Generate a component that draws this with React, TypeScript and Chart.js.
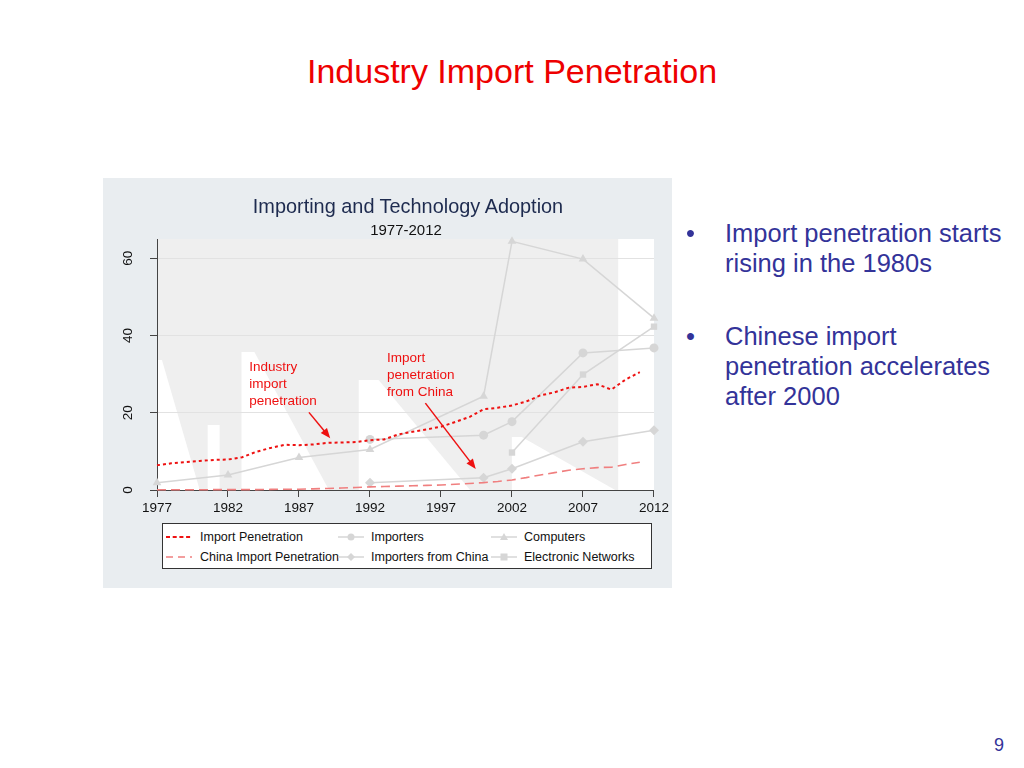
import React, { useEffect, useRef } from 'react';
import { Chart, registerables } from 'chart.js';

Chart.register(...registerables);

const FONT = '"Liberation Sans", Arial, Helvetica, sans-serif';

// ---- data ----
const annualYears = [
  1977, 1978, 1979, 1980, 1981, 1982, 1983, 1984, 1985, 1986, 1987, 1988,
  1989, 1990, 1991, 1992, 1993, 1994, 1995, 1996, 1997, 1998, 1999, 2000,
  2001, 2002, 2003, 2004, 2005, 2006, 2007, 2008, 2009, 2010, 2011,
];
const importPenetration = [
  6.4, 6.9, 7.2, 7.5, 7.8, 7.9, 8.5, 9.9, 10.9, 11.7, 11.6, 11.8,
  12.2, 12.3, 12.4, 12.9, 13.1, 14.4, 15.1, 15.7, 16.4, 17.6, 18.9, 20.9,
  21.3, 21.9, 22.9, 24.5, 25.3, 26.5, 26.7, 27.4, 26.0, 28.6, 30.5,
];
const chinaImportPenetration = [
  0.05, 0.05, 0.05, 0.05, 0.1, 0.1, 0.1, 0.1, 0.15, 0.2, 0.2, 0.3,
  0.4, 0.5, 0.65, 0.8, 0.9, 1.0, 1.1, 1.2, 1.3, 1.5, 1.7, 1.9,
  2.2, 2.6, 3.2, 3.9, 4.5, 5.1, 5.5, 5.8, 5.9, 6.6, 7.2,
];
const computerYears = [1977, 1982, 1987, 1992, 2000, 2002, 2007, 2012];
const computers = [1.9, 3.9, 8.4, 10.5, 24.3, 64.4, 59.8, 44.5];
const importerYears = [1992, 2000, 2002, 2007, 2012];
const importers = [13.1, 14.2, 17.7, 35.5, 36.8];
const importersFromChina = [1.9, 3.2, 5.5, 12.5, 15.5];
const networkYears = [2002, 2007, 2012];
const electronicNetworks = [9.7, 29.9, 42.3];

const xTickYears = [1977, 1982, 1987, 1992, 1997, 2002, 2007, 2012];
const yTickValues = [0, 20, 40, 60];

const seriesLabels = [
  'Import Penetration',
  'China Import Penetration',
  'Importers',
  'Importers from China',
  'Computers',
  'Electronic Networks',
];
// legend grid, row-major (3 columns x 2 rows), indices into seriesLabels
const legendOrder = [0, 2, 4, 1, 3, 5];

const annotationTexts = [
  ['Industry', 'import', 'penetration'],
  ['Import', 'penetration', 'from China'],
];
// [textYear, textValue, arrowFromYear, arrowFromValue, arrowToYear, arrowToValue]
const annotationAnchors = [
  [1983.5, 31.9, 1987.7, 20.1, 1989.2, 13.4],
  [1993.2, 34.0, 1995.9, 22.5, 1999.45, 5.45],
];

// ---- styles ----
const RED = '#ee1111';
const PINK = '#f07f7f';
const GREY = '#d6d6d6';

const pts = (xs: number[], ys: number[]) => xs.map((x, i) => ({ x, y: ys[i] }));

const seriesStyles: any[] = [
  { color: RED, dash: [3, 3], width: 2, point: false },
  { color: PINK, dash: [9, 5], width: 1.6, point: false },
  { color: GREY, dash: [], width: 1.5, point: 'circle', radius: 4.5 },
  { color: GREY, dash: [], width: 1.5, point: 'rectRot', radius: 5 },
  { color: GREY, dash: [], width: 1.5, point: 'triangle', radius: 5 },
  { color: GREY, dash: [], width: 1.5, point: 'rect', radius: 4.5 },
];
const seriesData = [
  pts(annualYears, importPenetration),
  pts(annualYears, chinaImportPenetration),
  pts(importerYears, importers),
  pts(importerYears, importersFromChina),
  pts(computerYears, computers),
  pts(networkYears, electronicNetworks),
];

const plotBackground = {
  id: 'plotBackground',
  beforeDraw(chart: any) {
    const { ctx, chartArea: a } = chart;
    const w = a.right - a.left;
    const h = a.bottom - a.top;
    ctx.save();
    ctx.fillStyle = '#efefef';
    ctx.fillRect(a.left, a.top, w, h);
    // light wedge artefacts of the original plot region
    const shapes = [
      [[0.002, 0.482], [0.01, 0.482], [0.086, 1], [0.002, 1]],
      [[0.102, 0.741], [0.126, 0.741], [0.126, 1], [0.102, 1]],
      [[0.17, 0.450], [0.196, 0.450], [0.346, 1], [0.17, 1]],
      [[0.406, 0.562], [0.446, 0.562], [0.63, 1], [0.406, 1]],
      [[0.714, 0.789], [0.734, 0.789], [0.922, 1], [0.714, 1]],
      [[0.928, 0], [1, 0], [1, 1], [0.928, 1]],
    ];
    ctx.fillStyle = '#ffffff';
    shapes.forEach((poly) => {
      ctx.beginPath();
      poly.forEach(([fx, fy], i) => {
        const px = a.left + fx * w;
        const py = a.top + fy * h;
        if (i === 0) ctx.moveTo(px, py);
        else ctx.lineTo(px, py);
      });
      ctx.closePath();
      ctx.fill();
    });
    ctx.restore();
  },
};

const annotations = {
  id: 'annotations',
  afterDatasetsDraw(chart: any) {
    const { ctx } = chart;
    const xs = chart.scales.x;
    const ys = chart.scales.y;
    ctx.save();
    ctx.fillStyle = RED;
    ctx.strokeStyle = RED;
    ctx.font = `13.5px ${FONT}`;
    ctx.textAlign = 'left';
    ctx.textBaseline = 'middle';
    annotationTexts.forEach((lines, k) => {
      const [tx, tv, fx, fv, toX, toV] = annotationAnchors[k];
      const px = xs.getPixelForValue(tx);
      const py = ys.getPixelForValue(tv);
      lines.forEach((line, i) => ctx.fillText(line, px, py + i * 17));
      const x1 = xs.getPixelForValue(fx);
      const y1 = ys.getPixelForValue(fv);
      const x2 = xs.getPixelForValue(toX);
      const y2 = ys.getPixelForValue(toV);
      const ang = Math.atan2(y2 - y1, x2 - x1);
      const head = 10;
      const half = 4;
      const c = Math.cos(ang);
      const s = Math.sin(ang);
      ctx.lineWidth = 1.5;
      ctx.beginPath();
      ctx.moveTo(x1, y1);
      ctx.lineTo(x2 - head * 0.8 * c, y2 - head * 0.8 * s);
      ctx.stroke();
      ctx.beginPath();
      ctx.moveTo(x2, y2);
      ctx.lineTo(x2 - head * c + half * s, y2 - head * s - half * c);
      ctx.lineTo(x2 - head * c - half * s, y2 - head * s + half * c);
      ctx.closePath();
      ctx.fill();
    });
    ctx.restore();
  },
};

function LegendGlyph({ idx }: { idx: number }) {
  const st = seriesStyles[idx];
  const w = 26;
  let marker: any = null;
  if (st.point === 'circle') marker = <circle cx={13} cy={6} r={3.5} fill={st.color} />;
  if (st.point === 'rectRot') marker = <polygon points="13,2 17,6 13,10 9,6" fill={st.color} />;
  if (st.point === 'triangle') marker = <polygon points="13,2 17,9 9,9" fill={st.color} />;
  if (st.point === 'rect') marker = <rect x={9.5} y={2.5} width={7} height={7} fill={st.color} />;
  const dash = idx === 0 ? '4,2.7' : idx === 1 ? '7,5' : undefined;
  return (
    <svg width={w} height={12} style={{ display: 'block' }}>
      <line x1={0} y1={6} x2={w} y2={6} stroke={st.color} strokeWidth={st.width} strokeDasharray={dash} />
      {marker}
    </svg>
  );
}

export default function App() {
  const ref = useRef<HTMLCanvasElement>(null);

  useEffect(() => {
    const datasets = seriesLabels.map((label, i) => {
      const st = seriesStyles[i];
      return {
        label,
        data: seriesData[i],
        borderColor: st.color,
        backgroundColor: st.color,
        borderWidth: st.width,
        borderDash: st.dash,
        pointStyle: st.point || 'circle',
        pointRadius: st.point ? st.radius : 0,
        pointBorderWidth: 0,
        pointBackgroundColor: st.color,
        tension: 0,
        fill: false,
        clip: false as any,
      };
    });
    const chart = new Chart(ref.current as HTMLCanvasElement, {
      type: 'line',
      data: { datasets } as any,
      plugins: [plotBackground, annotations],
      options: {
        animation: false,
        responsive: false,
        maintainAspectRatio: false,
        devicePixelRatio: 1,
        parsing: false as any,
        layout: { padding: { left: 0, right: 15, top: 61, bottom: 68 } },
        plugins: {
          legend: { display: false },
          tooltip: { enabled: false },
          title: { display: false },
        },
        scales: {
          x: {
            type: 'linear',
            min: 1977,
            max: 2012,
            afterBuildTicks: (s: any) => {
              s.ticks = xTickYears.map((v) => ({ value: v }));
            },
            afterFit: (s: any) => {
              s.height = 30;
            },
            grid: {
              drawOnChartArea: false,
              drawTicks: true,
              tickLength: 7,
              color: '#444',
              tickColor: '#444',
            },
            border: { display: true, color: '#444', width: 1 },
            ticks: {
              padding: 3,
              autoSkip: false,
              maxRotation: 0,
              color: '#111',
              font: { family: FONT, size: 13.5 },
              callback: (v: any) => String(v),
            },
          },
          y: {
            type: 'linear',
            min: 0,
            max: 65,
            afterBuildTicks: (s: any) => {
              s.ticks = yTickValues.map((v) => ({ value: v }));
            },
            afterFit: (s: any) => {
              s.width = 54;
            },
            grid: {
              color: (c: any) => (c.tick && c.tick.value === 0 ? 'rgba(0,0,0,0)' : '#e2e2e2'),
              tickColor: '#444',
              tickLength: 7,
              drawTicks: true,
            },
            border: { display: true, color: '#444', width: 1 },
            ticks: {
              minRotation: 90,
              maxRotation: 90,
              crossAlign: 'center',
              padding: 14,
              color: '#111',
              font: { family: FONT, size: 13.5 },
              callback: (v: any) => String(v),
            },
          },
        },
      } as any,
    });
    return () => chart.destroy();
  }, []);

  const colX = [[168, 200], [340, 371], [493, 524]];
  const rowY = [537, 557];

  return (
    <div
      style={{
        position: 'absolute',
        left: 0,
        top: 0,
        width: 1024,
        height: 768,
        background: '#ffffff',
        fontFamily: FONT,
        overflow: 'hidden',
      }}
    >
      <div
        style={{
          position: 'absolute',
          left: 0,
          top: 54,
          width: 1024,
          textAlign: 'center',
          fontSize: 34,
          lineHeight: '34px',
          color: '#ee0000',
          whiteSpace: 'nowrap',
        }}
      >
        Industry Import Penetration
      </div>

      {/* chart panel */}
      <div
        style={{
          position: 'absolute',
          left: 103,
          top: 178,
          width: 569,
          height: 410,
          background: '#e9edf0',
        }}
      />
      <canvas
        ref={ref}
        width={569}
        height={410}
        style={{ position: 'absolute', left: 103, top: 178, width: 569, height: 410 }}
      />
      <div
        style={{
          position: 'absolute',
          left: 208,
          top: 195.5,
          width: 400,
          textAlign: 'center',
          fontSize: 19.9,
          lineHeight: '20px',
          color: '#1e2b4f',
          whiteSpace: 'nowrap',
        }}
      >
        Importing and Technology Adoption
      </div>
      <div
        style={{
          position: 'absolute',
          left: 206,
          top: 221.5,
          width: 400,
          textAlign: 'center',
          fontSize: 15,
          lineHeight: '15px',
          color: '#111',
          whiteSpace: 'nowrap',
        }}
      >
        1977-2012
      </div>

      {/* legend */}
      <div
        style={{
          position: 'absolute',
          left: 162,
          top: 523,
          width: 488,
          height: 44,
          background: '#ffffff',
          border: '1px solid #333',
        }}
      />
      {legendOrder.map((idx, k) => {
        const col = k % 3;
        const row = Math.floor(k / 3);
        const [gx, tx] = colX[col];
        const cy = rowY[row];
        return (
          <React.Fragment key={idx}>
            <div style={{ position: 'absolute', left: gx - 2, top: cy - 6 }}>
              <LegendGlyph idx={idx} />
            </div>
            <div
              style={{
                position: 'absolute',
                left: tx,
                top: cy - 7,
                fontSize: 12.5,
                lineHeight: '14px',
                color: '#111',
                whiteSpace: 'nowrap',
              }}
            >
              {seriesLabels[idx]}
            </div>
          </React.Fragment>
        );
      })}

      {/* bullets */}
      {[
        { top: 218, lines: ['Import penetration starts', 'rising in the 1980s'] },
        { top: 321, lines: ['Chinese import', 'penetration accelerates', 'after 2000'] },
      ].map((b, i) => (
        <React.Fragment key={i}>
          <div
            style={{
              position: 'absolute',
              left: 686,
              top: b.top,
              fontSize: 25.5,
              lineHeight: '30px',
              color: '#333399',
            }}
          >
            •
          </div>
          <div
            style={{
              position: 'absolute',
              left: 725,
              top: b.top,
              fontSize: 25.5,
              lineHeight: '30px',
              color: '#333399',
              whiteSpace: 'nowrap',
            }}
          >
            {b.lines.map((l, j) => (
              <div key={j}>{l}</div>
            ))}
          </div>
        </React.Fragment>
      ))}

      <div
        style={{
          position: 'absolute',
          left: 994,
          top: 736,
          fontSize: 18,
          lineHeight: '18px',
          color: '#333399',
        }}
      >
        9
      </div>
    </div>
  );
}
